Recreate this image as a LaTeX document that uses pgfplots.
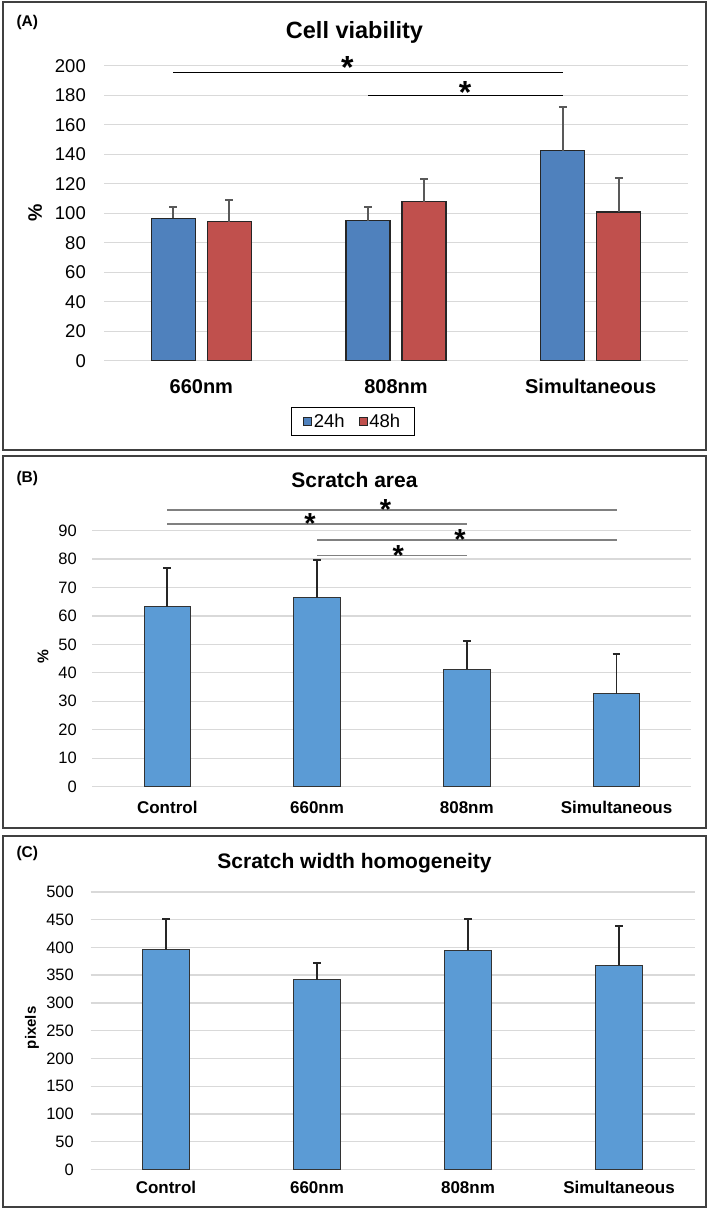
\documentclass[border=0pt]{standalone}
\usepackage{pgfplots}
\pgfplotsset{compat=1.18}
\usepackage{fontspec}
\setmainfont{Liberation Sans}

\definecolor{barA}{HTML}{4F81BD}
\definecolor{barR}{HTML}{C0504D}
\definecolor{barB}{HTML}{5B9BD5}
\definecolor{gridc}{HTML}{D9D9D9}
\definecolor{errc}{HTML}{595959}
\definecolor{framec}{HTML}{404040}
\definecolor{sigc}{HTML}{808080}

\newcommand\fs[1]{\fontsize{#1}{#1}\selectfont}

\pgfplotsset{
  panel/.style={
    scale only axis, clip=false,
    axis line style={draw=none},
    major tick length=0pt,
    ymajorgrids, grid style={gridc, line width=1.4pt},
    ymin=0, xmin=-0.5,
    /pgf/number format/assume math mode=true,
    yticklabel style={anchor=east, inner sep=0pt},
    xticklabel style={anchor=base, inner sep=0pt, font=\bfseries},
  },
  sqlegend/.style={legend image code/.code={\draw[##1, line width=0.6pt] (0pt,-4pt) rectangle (8pt,4pt);}},
  % upward error bars with a short horizontal cap
  errup/.style={error bars/.cd, y dir=plus, y explicit, error mark=|,
    error bar style={#1, line width=1.8pt},
    error mark options={#1, line width=1.8pt, mark size=3.9pt}},
}
\tikzset{sig/.style={line width=1.4pt}}

\begin{document}
\begin{tikzpicture}
\path[use as bounding box] (0,0) rectangle (709pt,-1212pt);

% panel frames
\draw[framec, line width=2pt] (2.5pt,-2pt) rectangle (705.7pt,-450pt);
\draw[framec, line width=2pt] (2.5pt,-456pt) rectangle (705.7pt,-828pt);
\draw[framec, line width=2pt] (2.5pt,-836pt) rectangle (705.7pt,-1207pt);

% panel letters and titles
\node[font=\fs{15.5}\bfseries] at (27.3pt,-22.7pt) {(A)};
\node[font=\fs{15.5}\bfseries] at (27.3pt,-478.3pt) {(B)};
\node[font=\fs{15.5}\bfseries] at (27.3pt,-853.3pt) {(C)};
\node[font=\fs{23.5}\bfseries, anchor=base, inner sep=0pt] at (354.5pt,-38.9pt) {Cell viability};
\node[font=\fs{21}\bfseries, anchor=base, inner sep=0pt] at (354.5pt,-487.8pt) {Scratch area};
\node[font=\fs{21}\bfseries, anchor=base, inner sep=0pt] at (354.5pt,-868.7pt) {Scratch width homogeneity};

% (A) cell viability, 24h and 48h; the two series sit at -0.1438 and +0.1438 of each group
\begin{axis}[panel,
  at={(104pt,-360.7pt)}, anchor=south west,
  width=584pt, height=295pt,
  xmax=2.5, ymax=200,
  xtick={0,1,2}, xticklabels={660nm, 808nm, Simultaneous},
  ytick={0,20,...,200},
  yticklabel style={font=\fs{18.5}, xshift=-18pt},
  xticklabel style={font=\fs{20}\bfseries, yshift=-33pt},
  ylabel={\%},
  every axis y label/.style={at={(axis description cs:-0.118,0.5)}, rotate=90, anchor=center, font=\fs{19.5}\bfseries},
  legend style={at={(axis description cs:0.426,-0.2054)}, anchor=center,
    draw=black, line width=1pt, font=\fs{18.5}, legend columns=2,
    inner xsep=12pt, inner ysep=4.5pt,
    /tikz/every even column/.append style={column sep=12pt}},
]
\addplot[ybar, bar width=44pt, bar shift=0pt, fill=barA, draw=black!85, line width=1.1pt, sqlegend, errup=errc]
  coordinates {(-0.1438,96.5) +- (0,7.7) (0.8562,94.9) +- (0,9.3) (1.8562,142.4) +- (0,29.8)};
\addlegendentry{24h}
\addplot[ybar, bar width=44pt, bar shift=0pt, fill=barR, draw=black!85, line width=1.1pt, sqlegend, errup=errc]
  coordinates {(0.1438,94.2) +- (0,15.0) (1.1438,107.8) +- (0,15.2) (2.1438,100.8) +- (0,22.9)};
\addlegendentry{48h}
% significance brackets
\draw[sig, black] (axis cs:-0.1438,195.5) -- (axis cs:1.8562,195.5);
\draw[sig, black] (axis cs:0.8562,180) -- (axis cs:1.8562,180);
\node[font=\fs{32}\bfseries, anchor=base, inner sep=0pt] at (axis cs:0.75,191.3) {*};
\node[font=\fs{32}\bfseries, anchor=base, inner sep=0pt] at (axis cs:1.355,174.3) {*};
\end{axis}

% (B) scratch area
\begin{axis}[panel,
  at={(92.4pt,-786.7pt)}, anchor=south west,
  width=599pt, height=256.3pt,
  xmax=3.5, ymax=90,
  xtick={0,1,2,3}, xticklabels={Control, 660nm, 808nm, Simultaneous},
  ytick={0,10,...,90},
  yticklabel style={font=\fs{16.5}, xshift=-15.4pt},
  xticklabel style={font=\fs{17}\bfseries, yshift=-26.6pt},
  ylabel={\%},
  every axis y label/.style={at={(axis description cs:-0.0825,0.506)}, rotate=90, anchor=center, font=\fs{15.5}\bfseries},
]
\addplot[ybar, bar width=46.5pt, bar shift=0pt, fill=barB, draw=black!80, line width=1pt, errup=black!85]
  coordinates {(0,63.2) +- (0,13.5) (1,66.3) +- (0,13.4) (2,41.3) +- (0,10.0) (3,32.7) +- (0,13.9)};
% significance brackets
\draw[sig, sigc] (axis cs:0,97.2) -- (axis cs:3,97.2);
\draw[sig, sigc] (axis cs:0,92.2) -- (axis cs:2,92.2);
\draw[sig, sigc] (axis cs:1,86.6) -- (axis cs:3,86.6);
\draw[sig, sigc] (axis cs:1,81.2) -- (axis cs:2,81.2);
\node[font=\fs{29}\bfseries, anchor=base, inner sep=0pt] at (axis cs:1.458,94.0) {*};
\node[font=\fs{29}\bfseries, anchor=base, inner sep=0pt] at (axis cs:0.953,88.8) {*};
\node[font=\fs{29}\bfseries, anchor=base, inner sep=0pt] at (axis cs:1.955,83.3) {*};
\node[font=\fs{29}\bfseries, anchor=base, inner sep=0pt] at (axis cs:1.543,77.8) {*};
\end{axis}

% (C) scratch width homogeneity
\begin{axis}[panel,
  at={(90.5pt,-1169.5pt)}, anchor=south west,
  width=604pt, height=277.7pt,
  xmax=3.5, ymax=500,
  xtick={0,1,2,3}, xticklabels={Control, 660nm, 808nm, Simultaneous},
  ytick={0,50,...,500},
  yticklabel style={font=\fs{16.5}, xshift=-16.5pt},
  xticklabel style={font=\fs{17}\bfseries, yshift=-24pt},
  ylabel={pixels},
  every axis y label/.style={at={(axis description cs:-0.097,0.51)}, rotate=90, anchor=center, font=\fs{15}\bfseries},
]
\addplot[ybar, bar width=47pt, bar shift=0pt, fill=barB, draw=black!80, line width=1pt, errup=black!85]
  coordinates {(0,396.0) +- (0,55.5) (1,341.3) +- (0,31.0) (2,394.6) +- (0,56.3) (3,368.2) +- (0,70.7)};
\end{axis}
\end{tikzpicture}
\end{document}
